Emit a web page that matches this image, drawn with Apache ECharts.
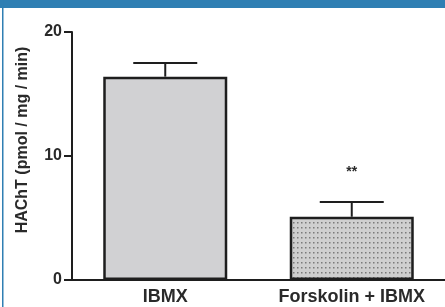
<!DOCTYPE html>
<html>
<head>
<meta charset="utf-8">
<script src="https://cdn.jsdelivr.net/npm/echarts@6/dist/echarts.min.js"></script>
<style>
  html, body { margin: 0; padding: 0; background: #fff; }
  #chart { width: 445px; height: 307px; }
</style>
</head>
<body>
<div id="chart"></div>
<script>
  // data
  var categories = ["IBMX", "Forskolin + IBMX"];
  var means = [16.4, 5.1];
  var errors = [1.1, 1.2];
  var marks = ["", "**"];
  var yTicks = [0, 10, 20];

  var ink = "#1e1e1e";
  var font = "Liberation Sans, Arial, sans-serif";

  // dotted fill for the second bar
  function makeDots() {
    var c = document.createElement("canvas");
    c.width = 4;
    c.height = 5;
    var ctx = c.getContext("2d");
    ctx.fillStyle = "#cfcfcf";
    ctx.fillRect(0, 0, 4, 5);
    ctx.fillStyle = "#7a7a7a";
    ctx.fillRect(1, 2, 1.5, 1.5);
    return c;
  }

  var chart = echarts.init(document.getElementById("chart"));

  chart.setOption({
    animation: false,
    backgroundColor: "#fff",
    grid: { left: 72, right: 0, top: 32, bottom: 27 },
    graphic: [
      { type: "rect", shape: { x: 0, y: 0, width: 445, height: 8 }, style: { fill: "#2f7fb3" } },
      { type: "rect", shape: { x: 2, y: 0, width: 1.5, height: 307 }, style: { fill: "#2f7fb3" } }
    ],
    xAxis: {
      type: "category",
      data: categories,
      axisLine: { lineStyle: { color: ink, width: 2 } },
      axisTick: { alignWithLabel: true, inside: false, interval: 0, length: 6, lineStyle: { color: ink, width: 2 } },
      axisLabel: { interval: 0, hideOverlap: false, color: "#2a2a2a", fontWeight: "bold", fontSize: 18, fontFamily: font, margin: 8 }
    },
    yAxis: {
      type: "value",
      min: yTicks[0],
      max: yTicks[yTicks.length - 1],
      interval: 10,
      splitLine: { show: false },
      axisLine: { show: true, lineStyle: { color: ink, width: 2 } },
      axisTick: { show: true, inside: false, length: 8, lineStyle: { color: ink, width: 2 } },
      axisLabel: { color: "#2a2a2a", fontWeight: "bold", fontSize: 16, fontFamily: font, margin: 10 },
      name: "HAChT (pmol / mg / min)",
      nameLocation: "middle",
      nameGap: 41,
      nameTextStyle: { color: "#2a2a2a", fontWeight: "bold", fontSize: 16, fontFamily: font, padding: [0, 0, 0, 32] }
    },
    series: [
      {
        type: "bar",
        barWidth: 124,
        data: means.map(function (v, i) {
          return {
            value: v,
            itemStyle: { color: i === 0 ? "#d1d1d3" : { image: makeDots(), repeat: "repeat" } }
          };
        }),
        itemStyle: { borderColor: ink, borderWidth: 2.5 }
      },
      {
        type: "custom",
        data: means.map(function (v, i) { return [i, v, v + errors[i]]; }),
        renderItem: function (params, api) {
          var lo = api.coord([api.value(0), api.value(1)]);
          var hi = api.coord([api.value(0), api.value(2)]);
          var half = 32;
          var style = { stroke: ink, lineWidth: 2 };
          var kids = [
            { type: "line", shape: { x1: lo[0], y1: lo[1], x2: hi[0], y2: hi[1] }, style: style },
            { type: "line", shape: { x1: hi[0] - half, y1: hi[1], x2: hi[0] + half, y2: hi[1] }, style: style }
          ];
          var m = marks[params.dataIndex];
          if (m) {
            kids.push({
              type: "text",
              style: {
                text: m, x: hi[0], y: hi[1] - 30, align: "center", verticalAlign: "middle",
                fill: "#2a2a2a", font: "bold 14px " + font
              }
            });
          }
          return { type: "group", children: kids };
        },
        z: 3
      }
    ]
  });
</script>
</body>
</html>
